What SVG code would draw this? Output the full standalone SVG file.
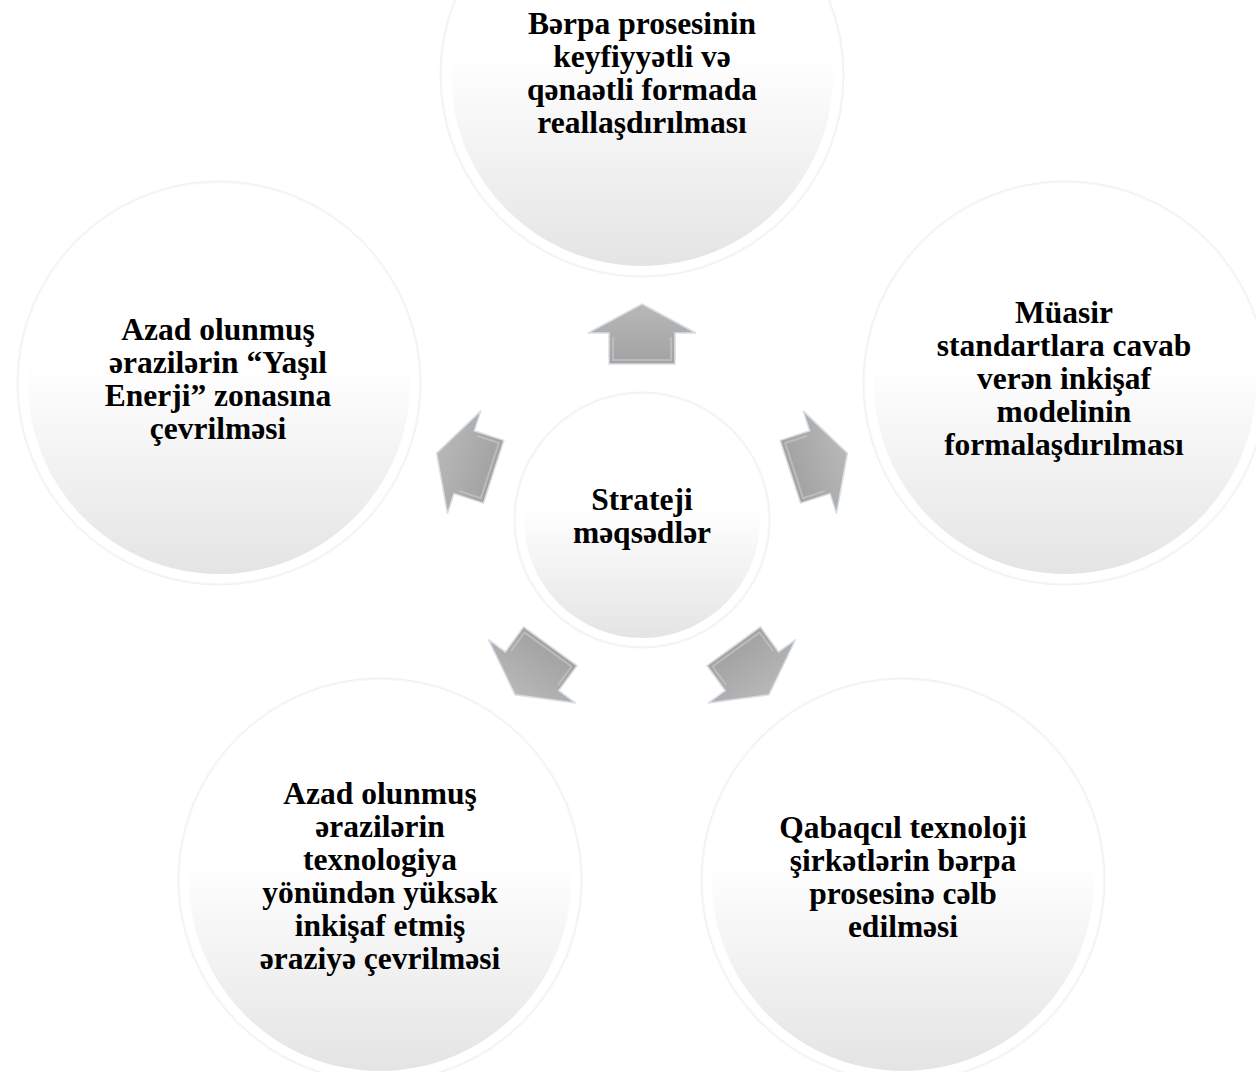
<svg xmlns="http://www.w3.org/2000/svg" width="1256" height="1072" viewBox="0 0 1256 1072">
  <defs>
    <linearGradient id="cfill" x1="0" y1="0" x2="0" y2="1">
      <stop offset="0" stop-color="#ffffff"/>
      <stop offset="0.45" stop-color="#ffffff"/>
      <stop offset="1" stop-color="#e4e4e4"/>
    </linearGradient>
    <linearGradient id="afill" x1="0" y1="0" x2="0" y2="1">
      <stop offset="0" stop-color="#b8b8b8"/>
      <stop offset="1" stop-color="#a2a2a2"/>
    </linearGradient>
    <style>
      .rimshadow { fill: #f7f7f7; stroke: #f1f1f1; stroke-width: 1; }
      .rim { fill: #ffffff; }
      .face { fill: url(#cfill); }
      .lbl { font-family: "Liberation Serif", "Times New Roman", serif; font-weight: bold; font-size: 31.5px; fill: #000000; text-anchor: middle; }
      .arrow { fill: url(#afill); stroke: #d6dee6; stroke-width: 1.5; stroke-linejoin: miter; }
      .bevel { fill: none; stroke: #c4c4c4; stroke-width: 2; opacity: 0.7; }
    </style>
    <g id="arrowShape">
      <path class="arrow" d="M642,304 L696,333 L675,333 L675,364 L609,364 L609,333 L588,333 Z"/>
      <path class="bevel" d="M613,337 L613,360 L671,360 L671,337"/>
    </g>
  </defs>

  <rect width="1256" height="1072" fill="#ffffff"/>

  <g id="connectors">
    <use href="#arrowShape"/>
    <use href="#arrowShape" transform="rotate(72 642 520)"/>
    <use href="#arrowShape" transform="rotate(144 642 520)"/>
    <use href="#arrowShape" transform="rotate(216 642 520)"/>
    <use href="#arrowShape" transform="rotate(288 642 520)"/>
  </g>

  <g id="node-center">
    <circle class="rimshadow" cx="642" cy="520" r="128"/>
    <circle class="rim" cx="642" cy="520" r="126"/>
    <circle class="face" cx="642" cy="520" r="118"/>
    <text class="lbl" x="642" y="510">Strateji</text>
    <text class="lbl" x="642" y="543">məqsədlər</text>
  </g>

  <g id="node-top">
    <circle class="rimshadow" cx="642" cy="75" r="202"/>
    <circle class="rim" cx="642" cy="75" r="200"/>
    <circle class="face" cx="642" cy="75" r="191"/>
    <text class="lbl" x="642" y="34">Bərpa prosesinin</text>
    <text class="lbl" x="642" y="67">keyfiyyətli və</text>
    <text class="lbl" x="642" y="100">qənaətli formada</text>
    <text class="lbl" x="642" y="133">reallaşdırılması</text>
  </g>

  <g id="node-right">
    <circle class="rimshadow" cx="1065" cy="383" r="202"/>
    <circle class="rim" cx="1065" cy="383" r="200"/>
    <circle class="face" cx="1065" cy="383" r="191"/>
    <text class="lbl" x="1064" y="323">Müasir</text>
    <text class="lbl" x="1064" y="356">standartlara cavab</text>
    <text class="lbl" x="1064" y="389">verən inkişaf</text>
    <text class="lbl" x="1064" y="422">modelinin</text>
    <text class="lbl" x="1064" y="455">formalaşdırılması</text>
  </g>

  <g id="node-bottom-right">
    <circle class="rimshadow" cx="903" cy="880" r="202"/>
    <circle class="rim" cx="903" cy="880" r="200"/>
    <circle class="face" cx="903" cy="880" r="191"/>
    <text class="lbl" x="903" y="838">Qabaqcıl texnoloji</text>
    <text class="lbl" x="903" y="871">şirkətlərin bərpa</text>
    <text class="lbl" x="903" y="904">prosesinə cəlb</text>
    <text class="lbl" x="903" y="937">edilməsi</text>
  </g>

  <g id="node-bottom-left">
    <circle class="rimshadow" cx="380" cy="880" r="202"/>
    <circle class="rim" cx="380" cy="880" r="200"/>
    <circle class="face" cx="380" cy="880" r="191"/>
    <text class="lbl" x="380" y="804">Azad olunmuş</text>
    <text class="lbl" x="380" y="837">ərazilərin</text>
    <text class="lbl" x="380" y="870">texnologiya</text>
    <text class="lbl" x="380" y="903">yönündən yüksək</text>
    <text class="lbl" x="380" y="936">inkişaf etmiş</text>
    <text class="lbl" x="380" y="969">əraziyə çevrilməsi</text>
  </g>

  <g id="node-left">
    <circle class="rimshadow" cx="219" cy="383" r="202"/>
    <circle class="rim" cx="219" cy="383" r="200"/>
    <circle class="face" cx="219" cy="383" r="191"/>
    <text class="lbl" x="218" y="340">Azad olunmuş</text>
    <text class="lbl" x="218" y="373">ərazilərin “Yaşıl</text>
    <text class="lbl" x="218" y="406">Enerji” zonasına</text>
    <text class="lbl" x="218" y="439">çevrilməsi</text>
  </g>
</svg>
